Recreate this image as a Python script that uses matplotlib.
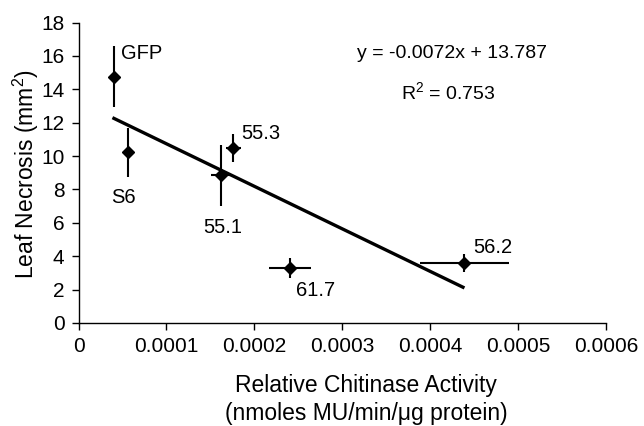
import matplotlib
matplotlib.use("Agg")
import matplotlib.pyplot as plt

plt.rcParams['font.family'] = ['Liberation Sans', 'DejaVu Sans']
plt.rcParams['mathtext.fontset'] = 'custom'
plt.rcParams['mathtext.rm'] = 'Liberation Sans'

labels = ["GFP", "S6", "55.1", "55.3", "61.7", "56.2"]
x = [0.0000408, 0.0000559, 0.0001618, 0.0001758, 0.0002404, 0.000439]
y = [14.76, 10.22, 8.86, 10.46, 3.28, 3.58]
xerr = [0.0, 0.0, 0.0000113, 0.0000085, 0.0000236, 0.0000507]
yerr = [1.85, 1.45, 1.83, 0.84, 0.6, 0.54]
trend_x = [0.0000386, 0.000439]
trend_y = [12.3, 2.1]

label_x = [0.0000488, 0.0000374, 0.0001418, 0.000185, 0.000247, 0.000449]
label_y = [15.84, 7.2, 5.4, 11.04, 1.62, 4.2]

W, H = 644, 426
fig = plt.figure(figsize=(W / 100, H / 100), dpi=100)
ax = fig.add_axes([78.5 / W, (H - 323) / H, (606 - 78.5) / W, (323 - 22.5) / H])

ax.errorbar(x, y, xerr=xerr, yerr=yerr, fmt='D', color='black', ms=6.5,
            elinewidth=1.5, capsize=0, ecolor='black')
ax.plot(trend_x, trend_y, color='black', lw=2.4, solid_capstyle='butt')

for lab, tx, ty in zip(labels, label_x, label_y):
    ax.text(tx, ty, lab, fontsize=14.5, ha='left', va='baseline')

ax.text(0.000425, 15.9, "y = -0.0072x + 13.787", fontsize=14, ha='center', va='baseline')
ax.text(0.000421, 13.38, "R$^2$ = 0.753", fontsize=14, ha='center', va='baseline')

ax.set_xlim(0, 0.0006)
ax.set_ylim(0, 18)
ax.set_xticks([0, 0.0001, 0.0002, 0.0003, 0.0004, 0.0005, 0.0006])
ax.set_xticklabels(["0", "0.0001", "0.0002", "0.0003", "0.0004", "0.0005", "0.0006"])
ax.set_yticks(range(0, 19, 2))
ax.tick_params(labelsize=15, direction='out', length=5, width=1, pad=5)
for s in ['top', 'right']:
    ax.spines[s].set_visible(False)
ax.spines['left'].set_linewidth(1)
ax.spines['bottom'].set_linewidth(1)

fig.text(366 / W, (H - 392) / H, "Relative Chitinase Activity", fontsize=16.5,
         ha='center', va='baseline')
fig.text(366 / W, (H - 420) / H, "(nmoles MU/min/\u03bcg protein)", fontsize=16.5,
         ha='center', va='baseline')
fig.text(26 / W, (H - 174.5) / H, "Leaf Necrosis (mm$^2$)", fontsize=16.5,
         rotation=90, ha='center', va='center')

fig.savefig("out.png", dpi=100)
